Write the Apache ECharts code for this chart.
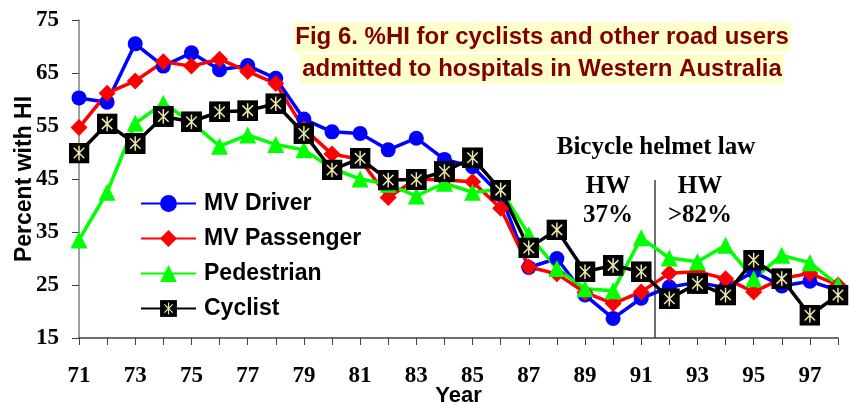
<!DOCTYPE html>
<html>
<head>
<meta charset="utf-8">
<title>Fig 6. %HI</title>
<script src="https://cdn.jsdelivr.net/npm/echarts@6/dist/echarts.min.js"></script>
<style>
  html, body { margin: 0; padding: 0; background: #fff; }
  #chart { width: 859px; height: 405px; }
</style>
</head>
<body>
<div id="chart"></div>
<script>
// years (19xx)
var years = ['71', '72', '73', '74', '75', '76', '77', '78', '79', '80', '81', '82', '83', '84',
  '85', '86', '87', '88', '89', '90', '91', '92', '93', '94', '95', '96', '97', '98']

// percent with head injury
var mvDriver = [60.3, 59.5, 70.5, 66.3, 68.8, 65.6, 66.4, 64.0, 56.3, 53.9, 53.6, 50.5, 52.7, 48.7,
  47.3, 42.0, 28.3, 30.0, 23.1, 18.7, 22.5, 24.6, 25.5, 24.5, 27.5, 24.8, 25.7, 24.0]
var mvPassenger = [54.7, 61.2, 63.5, 67.1, 66.3, 67.6, 65.3, 63.0, 54.5, 49.7, 48.7, 41.5, 45.0, 44.8,
  44.5, 39.5, 28.4, 27.1, 23.6, 21.5, 23.7, 27.2, 27.5, 26.2, 23.7, 26.2, 27.2, 25.0]
var pedestrian = [33.5, 42.5, 55.5, 59.3, 55.7, 51.2, 53.3, 51.5, 50.5, 47.0, 45.0, 44.0, 41.8, 44.2,
  42.5, 43.0, 34.5, 28.1, 24.3, 23.9, 33.9, 30.1, 29.4, 32.5, 26.2, 30.6, 29.2, 25.0]
var cyclist = [49.9, 55.4, 51.7, 56.8, 55.8, 57.7, 57.9, 59.2, 53.6, 46.7, 48.9, 44.8, 44.9, 46.4,
  49.0, 42.9, 32.0, 35.4, 27.5, 28.7, 27.5, 22.4, 25.3, 23.1, 29.7, 26.2, 19.3, 23.1]

var yTicks = { min: 15, max: 75, step: 10 }

// black square with a pale asterisk, like the excel marker
var cyclistSvg = "<svg xmlns='http://www.w3.org/2000/svg' width='20' height='20' viewBox='0 0 20 20'>" +
  "<rect width='20' height='20' fill='#000'/>" +
  "<path d='M10 3V17M5 5L15 15M15 5L5 15' stroke='#EEE8AA' stroke-width='1.4'/></svg>"
var cyclistSymbol = 'image://data:image/svg+xml;charset=utf-8,' + encodeURIComponent(cyclistSvg)

var serif = '"Liberation Serif", "Times New Roman", serif'
var sans = '"Liberation Sans", Arial, sans-serif'

var chart = echarts.init(document.getElementById('chart'))

function lineSeries(name, data, color, symbol, size) {
  return {
    name: name,
    type: 'line',
    data: data,
    symbol: symbol,
    symbolSize: size,
    showAllSymbol: true,
    lineStyle: { color: color, width: 3.5 },
    itemStyle: { color: color },
    emphasis: { disabled: true }
  }
}

chart.setOption({
  animation: false,
  grid: {
    left: 79,
    right: 21,
    top: 20,
    bottom: 67,
    outerBoundsMode: 'none'
  },
  legend: {
    orient: 'vertical',
    left: 140,
    top: 192,
    padding: 0,
    itemWidth: 55,
    itemHeight: 21,
    itemGap: 12,
    textStyle: {
      fontFamily: sans,
      fontWeight: 'bold',
      fontSize: 23,
      lineHeight: 21,
      color: '#000',
      padding: [0, 0, 0, 3]
    },
    data: ['MV Driver', 'MV Passenger', 'Pedestrian', 'Cyclist']
  },
  xAxis: {
    type: 'category',
    data: years,
    boundaryGap: false,
    name: 'Year',
    nameLocation: 'middle',
    nameGap: 47,
    nameMoveOverlap: false,
    nameTextStyle: { fontFamily: sans, fontWeight: 'bold', fontSize: 22, color: '#000' },
    axisLine: { lineStyle: { color: '#404040', width: 1.5 } },
    axisTick: { show: true, interval: 0, length: 7, lineStyle: { color: '#404040' } },
    axisLabel: {
      interval: 1,
      margin: 27,
      fontFamily: serif,
      fontWeight: 'bold',
      fontSize: 23,
      color: '#000'
    },
    splitLine: { show: false }
  },
  yAxis: {
    type: 'value',
    min: yTicks.min,
    max: yTicks.max,
    interval: yTicks.step,
    name: 'Percent with HI',
    nameLocation: 'middle',
    nameGap: 43,
    nameMoveOverlap: false,
    nameTextStyle: { fontFamily: sans, fontWeight: 'bold', fontSize: 23, color: '#000' },
    axisLine: { show: true, lineStyle: { color: '#808080', width: 1.5 } },
    axisTick: { show: true, length: 7, lineStyle: { color: '#404040' } },
    axisLabel: {
      margin: 20,
      fontFamily: serif,
      fontWeight: 'bold',
      fontSize: 23,
      color: '#000'
    },
    splitLine: { show: false }
  },
  graphic: [
    {
      type: 'text',
      x: 542, y: 37,
      style: {
        text: 'Fig 6. %HI for cyclists and other road users',
        font: 'bold 24px ' + sans,
        fill: '#800000',
        align: 'center',
        verticalAlign: 'middle',
        backgroundColor: '#FFFFCC',
        padding: [3, 2]
      }
    },
    {
      type: 'text',
      x: 542, y: 69,
      style: {
        text: 'admitted to hospitals in Western Australia',
        font: 'bold 24px ' + sans,
        fill: '#800000',
        align: 'center',
        verticalAlign: 'middle',
        backgroundColor: '#FFFFCC',
        padding: [3, 2]
      }
    },
    {
      type: 'text',
      x: 656, y: 148,
      style: {
        text: 'Bicycle helmet law',
        font: 'bold 25px ' + serif,
        fill: '#000',
        align: 'center',
        verticalAlign: 'middle'
      }
    },
    {
      type: 'text',
      x: 608, y: 201,
      style: {
        text: 'HW\n37%',
        font: 'bold 25px ' + serif,
        lineHeight: 29,
        fill: '#000',
        align: 'center',
        verticalAlign: 'middle'
      }
    },
    {
      type: 'text',
      x: 700, y: 201,
      style: {
        text: 'HW\n>82%',
        font: 'bold 25px ' + serif,
        lineHeight: 29,
        fill: '#000',
        align: 'center',
        verticalAlign: 'middle'
      }
    },
    {
      type: 'line',
      shape: { x1: 655, y1: 180, x2: 655, y2: 338 },
      style: { stroke: '#404040', lineWidth: 1.5 }
    }
  ],
  series: [
    lineSeries('MV Driver', mvDriver, '#0000FF', 'circle', 15),
    lineSeries('MV Passenger', mvPassenger, '#FF0000', 'diamond', 17),
    lineSeries('Pedestrian', pedestrian, '#00FF00', 'triangle', 17),
    lineSeries('Cyclist', cyclist, '#000000', cyclistSymbol, 21)
  ]
})
</script>
</body>
</html>
